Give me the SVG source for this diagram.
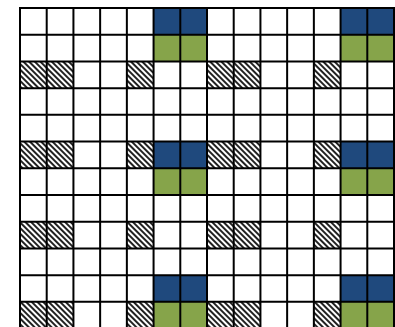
<svg xmlns="http://www.w3.org/2000/svg" width="395" height="327" viewBox="0 0 395 327">
<style>
.b{fill:#1F497D}
.g{fill:#86A44A}
.h{fill:url(#hatch)}
.grid{fill:none;stroke:#000;stroke-width:2}
</style>
<defs>
<pattern id="hatch" patternUnits="userSpaceOnUse" width="4" height="4" patternTransform="rotate(-45)">
<rect width="4" height="4" fill="#fff"/>
<rect width="2" height="4" fill="#222"/>
</pattern>
</defs>
<rect width="395" height="327" fill="#fff"/>
<g id="cells">
<!-- blue cells rows 0,5,10 -->
<rect class="b" x="153.57" y="8" width="53.43" height="26.71"/>
<rect class="b" x="340.57" y="8" width="53.43" height="26.71"/>
<rect class="b" x="153.57" y="141.57" width="53.43" height="26.72"/>
<rect class="b" x="340.57" y="141.57" width="53.43" height="26.72"/>
<rect class="b" x="153.57" y="275.14" width="53.43" height="26.72"/>
<rect class="b" x="340.57" y="275.14" width="53.43" height="26.72"/>
<!-- green cells rows 1,6,11 -->
<rect class="g" x="153.57" y="34.71" width="53.43" height="26.72"/>
<rect class="g" x="340.57" y="34.71" width="53.43" height="26.72"/>
<rect class="g" x="153.57" y="168.29" width="53.43" height="26.71"/>
<rect class="g" x="340.57" y="168.29" width="53.43" height="26.71"/>
<rect class="g" x="153.57" y="301.86" width="53.43" height="26.71"/>
<rect class="g" x="340.57" y="301.86" width="53.43" height="26.71"/>
<!-- hatched cells rows 2,5,8,11 -->
<rect class="h" x="20" y="61.43" width="53.43" height="26.71"/>
<rect class="h" x="126.86" y="61.43" width="26.71" height="26.71"/>
<rect class="h" x="207" y="61.43" width="53.43" height="26.71"/>
<rect class="h" x="313.86" y="61.43" width="26.71" height="26.71"/>
<rect class="h" x="20" y="141.57" width="53.43" height="26.72"/>
<rect class="h" x="126.86" y="141.57" width="26.71" height="26.72"/>
<rect class="h" x="207" y="141.57" width="53.43" height="26.72"/>
<rect class="h" x="313.86" y="141.57" width="26.71" height="26.72"/>
<rect class="h" x="20" y="221.71" width="53.43" height="26.72"/>
<rect class="h" x="126.86" y="221.71" width="26.71" height="26.72"/>
<rect class="h" x="207" y="221.71" width="53.43" height="26.72"/>
<rect class="h" x="313.86" y="221.71" width="26.71" height="26.72"/>
<rect class="h" x="20" y="301.86" width="53.43" height="26.71"/>
<rect class="h" x="126.86" y="301.86" width="26.71" height="26.71"/>
<rect class="h" x="207" y="301.86" width="53.43" height="26.71"/>
<rect class="h" x="313.86" y="301.86" width="26.71" height="26.71"/>
</g>
<g id="gridlines">
<path class="grid" d="M20,8V328 M46.71,8V328 M73.43,8V328 M100.14,8V328 M126.86,8V328 M153.57,8V328 M180.29,8V328 M207,8V328 M233.71,8V328 M260.43,8V328 M287.14,8V328 M313.86,8V328 M340.57,8V328 M367.29,8V328 M394,8V328
M19,8H395 M19,34.71H395 M19,61.43H395 M19,88.14H395 M19,114.86H395 M19,141.57H395 M19,168.29H395 M19,195H395 M19,221.71H395 M19,248.43H395 M19,275.14H395 M19,301.86H395"/>
</g>
</svg>
